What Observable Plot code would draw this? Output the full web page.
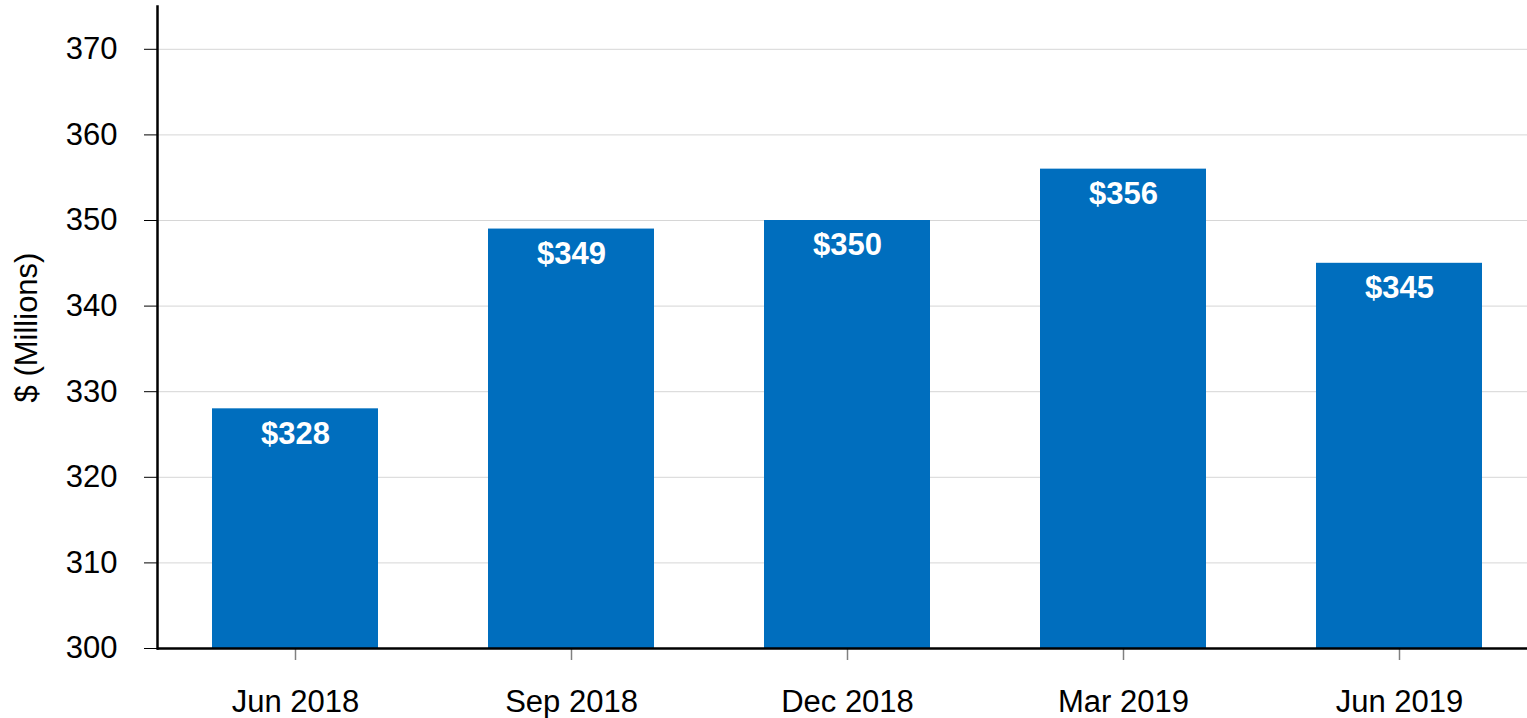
<!DOCTYPE html>
<html>
<head>
<meta charset="utf-8">
<script src="https://cdn.jsdelivr.net/npm/d3@7"></script>
<script src="https://cdn.jsdelivr.net/npm/@observablehq/plot@0.6"></script>
<style>
  html, body { margin: 0; padding: 0; background: #fff; }
</style>
</head>
<body>
<div id="chart"></div>
<script>
const periods = ["Jun 2018", "Sep 2018", "Dec 2018", "Mar 2019", "Jun 2019"];
const values = [328, 349, 350, 356, 345];
const yTicks = [300, 310, 320, 330, 340, 350, 360, 370];
const yDomain = [300, 375];
const yLabel = "$ (Millions)";

const data = periods.map((p, i) => ({period: p, value: values[i]}));

const chart = Plot.plot({
  width: 1527,
  height: 718,
  marginLeft: 157,
  marginRight: 0,
  marginTop: 6,
  marginBottom: 70,
  style: {fontFamily: "'Liberation Sans', Arial, sans-serif", fontSize: "31px", background: "white", color: "black"},
  x: {domain: periods, range: [157, 1537], paddingInner: 0.4, paddingOuter: 0.2, label: null},
  y: {domain: yDomain, label: null},
  marks: [
    Plot.gridY(yTicks, {stroke: "#d6d6d6", strokeOpacity: 1, strokeWidth: 1}),
    Plot.barY(data, {x: "period", y1: yDomain[0], y2: "value", fill: "#006EBE"}),
    Plot.text(data, {x: "period", y: "value", text: d => `$${d.value}`, fill: "white", fontWeight: "bold", fontSize: 31, dy: 25}),
    Plot.axisY(yTicks, {tickSize: 13, tickPadding: 27, label: null, stroke: "black", fill: "black", fontSize: 31}),
    Plot.axisX({tickSize: 12, tickPadding: 29, stroke: "#808080", strokeWidth: 1.5, fill: "black", label: null, fontSize: 31}),
    Plot.ruleY([yDomain[0]], {stroke: "black", strokeWidth: 2.5}),
    Plot.frame({anchor: "left", stroke: "black", strokeWidth: 2.5}),
    Plot.text([yLabel], {frameAnchor: "left", textAnchor: "middle", text: d => d, rotate: -90, dx: -130, fontSize: 31, fill: "black"})
  ]
});
document.getElementById("chart").appendChild(chart);
</script>
</body>
</html>
